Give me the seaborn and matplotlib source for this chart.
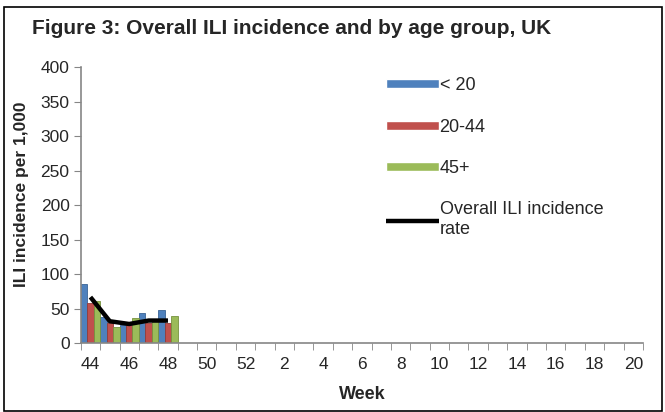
import numpy as np
import pandas as pd
import matplotlib
matplotlib.use("Agg")
import matplotlib.pyplot as plt
from matplotlib.patches import Rectangle
import seaborn as sns

# Week axis: 44..52 then 1..20
weeks = [str(w) for w in list(range(44, 53)) + list(range(1, 21))]

# Data (weeks 44-48 only)
data_weeks = ["44", "45", "46", "47", "48"]
under_20 = [86, 38, 26, 44, 48]
age_20_44 = [58, 29, 26, 30, 30]
age_45_plus = [61, 23, 36, 34, 40]
overall_rate = [67, 32, 28, 33, 33]

groups = ["< 20", "20-44", "45+"]
colors = ["#4F81BD", "#C0504D", "#9BBB59"]
edge_colors = ["#3A6496", "#943C3A", "#76923F"]

df = pd.DataFrame({
    "week": data_weeks * 3,
    "value": under_20 + age_20_44 + age_45_plus,
    "group": np.repeat(groups, len(data_weeks)),
})

sns.set_style("white")
plt.rcParams["font.family"] = ["Liberation Sans", "DejaVu Sans"]

fig = plt.figure(figsize=(6.65, 4.12), dpi=100)
ax = fig.add_axes([0.1214, 0.1667, 0.8455, 0.67])

sns.barplot(data=df, x="week", y="value", hue="group", order=weeks,
            hue_order=groups, palette=colors, width=1.0, gap=0,
            ax=ax, legend=True, saturation=1)

# darker edge, a bit like the bevel in the original
for cont, ec in zip(ax.containers, edge_colors):
    for bar in cont:
        bar.set_edgecolor(ec)
        bar.set_linewidth(0.6)

# overall rate line, on category positions
line_x = [weeks.index(w) for w in data_weeks]
ax.plot(line_x, overall_rate, color="black", lw=3.2,
        solid_capstyle="butt", label="Overall ILI incidence\nrate")

ax.set_xlim(-0.5, len(weeks) - 0.5)
ax.set_ylim(0, 400)
ax.set_yticks(range(0, 401, 50))

# labels every other week, tick marks on category borders
ax.set_xticks(range(0, len(weeks), 2))
ax.set_xticklabels(weeks[::2])
ax.set_xticks(np.arange(-0.5, len(weeks), 1), minor=True)
ax.tick_params(axis="x", which="major", length=0, pad=10, labelsize=12.5)
ax.tick_params(axis="x", which="minor", length=5, color="#868686", direction="out")
ax.tick_params(axis="y", length=5, color="#868686", direction="out", labelsize=12.5, pad=3)
ax.tick_params(bottom=True, left=True, which="both")

for s in ["top", "right"]:
    ax.spines[s].set_visible(False)
for s in ["left", "bottom"]:
    ax.spines[s].set_color("#868686")
    ax.spines[s].set_linewidth(1.2)

ax.set_xlabel("Week", fontsize=13, fontweight="bold", labelpad=10)
ax.set_ylabel("")
fig.text(22 / 665, 1 - 194 / 412, "ILI incidence per 1,000", rotation=90,
         ha="center", va="center", fontsize=12.5, fontweight="bold")

fig.text(32 / 665, 1 - 28 / 412, "Figure 3: Overall ILI incidence and by age group, UK",
         ha="left", va="center", fontsize=15, fontweight="bold")

handles, labels = ax.get_legend_handles_labels()
ax.legend(handles, labels, loc="upper left", bbox_to_anchor=(370 / 665, 1 - 61 / 412),
          bbox_transform=fig.transFigure, frameon=False, fontsize=13,
          handlelength=2.9, handleheight=0.4, handletextpad=0.05, labelspacing=1.35)

# outer border around the whole chart
fig.patches.append(Rectangle((4 / 665, 1 / 412), 658 / 665, 404 / 412,
                             transform=fig.transFigure, fill=False,
                             edgecolor="black", lw=1.2))

fig.savefig("out.png", dpi=100)
